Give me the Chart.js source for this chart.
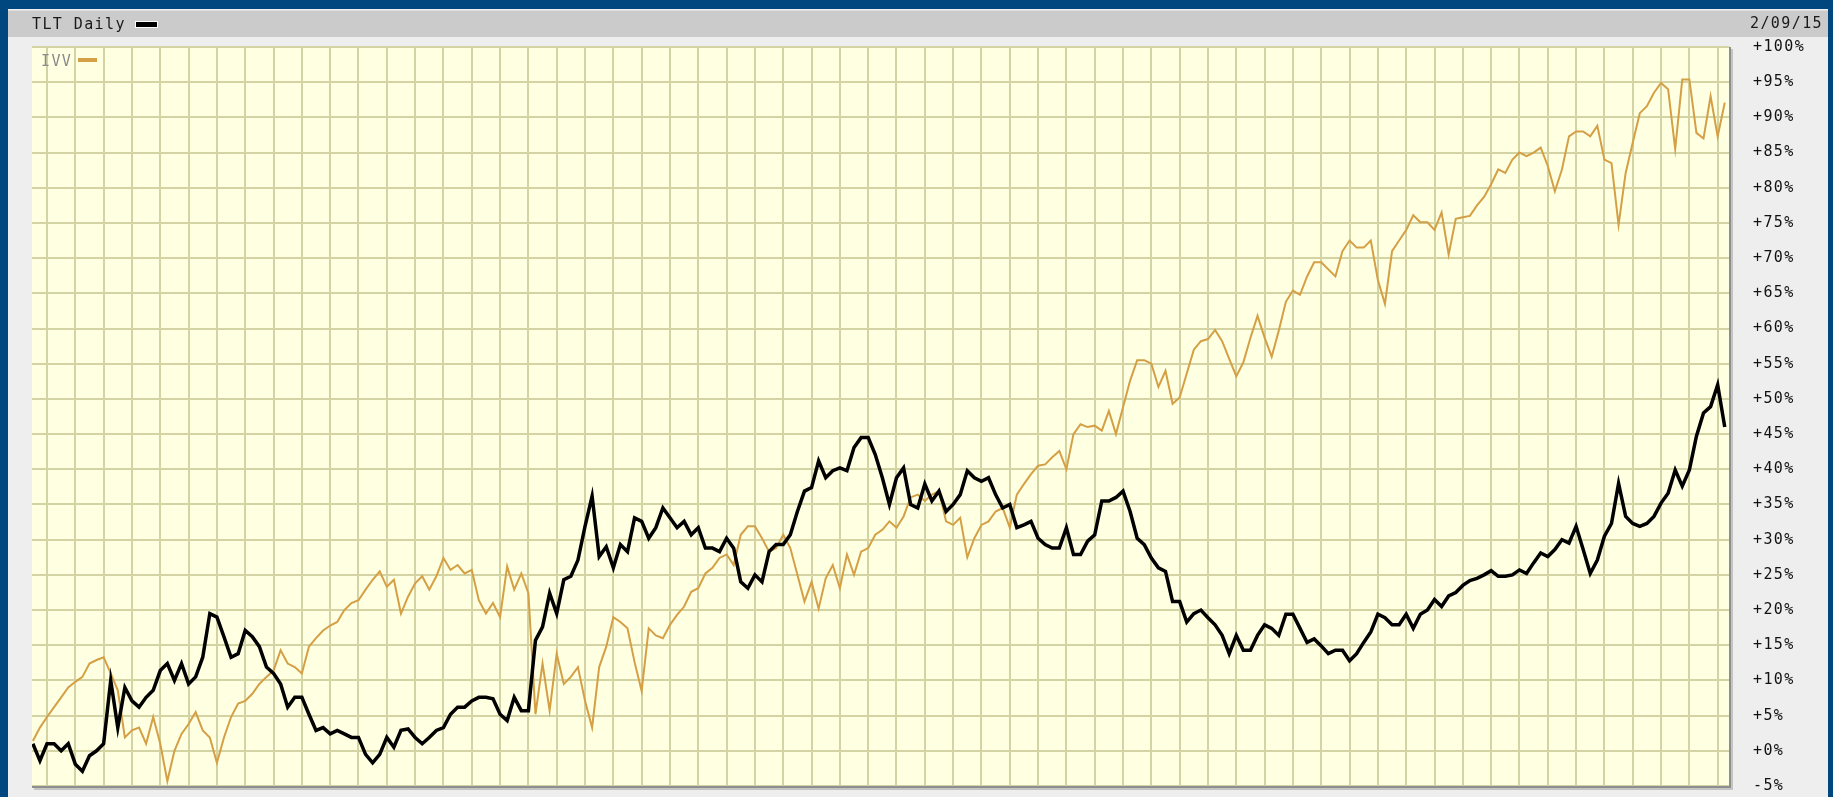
<!DOCTYPE html>
<html>
<head>
<meta charset="utf-8">
<title>TLT vs IVV</title>
<script src="https://cdn.jsdelivr.net/npm/chart.js@4.4.1/dist/chart.umd.min.js"></script>
<style>
html, body { margin: 0; padding: 0; width: 1833px; height: 797px; overflow: hidden; background: #00477f; }
#panel { position: absolute; left: 8px; top: 9px; width: 1820px; height: 788px; background: #eeeeee; }
#bar { position: absolute; left: 8px; top: 10px; width: 1820px; height: 26px; background: #cbcbcb; border-top: 1px solid #dedede; }
#chart { position: absolute; left: 0; top: 0; }
.txt { position: absolute; font-family: 'DejaVu Sans Mono', monospace; font-size: 15px; line-height: 15px; letter-spacing: 1.4px; color: #1a1a1a; white-space: nowrap; }
.swatch { position: absolute; }
</style>
</head>
<body>
<div id="panel"></div>
<div id="bar"></div>
<canvas id="chart" width="1833" height="797"></canvas>
<div class="txt" id="title" style="left:32px; top:17px;"></div>
<div class="swatch" style="left:135px; top:21px; width:21px; height:5px; background:#000; border:1px solid #fff;"></div>
<div class="txt" id="dateLbl" style="right:10px; top:16px;"></div>
<div class="txt" id="ivvLbl" style="left:41px; top:54px; color:#8a8a8a;"></div>
<div class="swatch" style="left:78px; top:58px; width:19px; height:4px; background:#d49f45;"></div>

<script>
// header texts
const titleText = 'TLT Daily';
const dateText = '2/09/15';
const compareText = 'IVV';

// weekly samples, first sample sits two weeks before the first month line
const firstWeek = -2;

// % change since start
const tltPct = [
    1, -1.4, 1, 1, 0, 1, -1.9, -2.9, -0.7, 0,
    1, 10, 3.3, 9, 7.1, 6.2, 7.6, 8.6, 11.4, 12.4,
    10, 12.4, 9.5, 10.5, 13.3, 19.5, 19, 16.2, 13.3, 13.8,
    17.1, 16.2, 14.8, 11.9, 11, 9.5, 6.2, 7.6, 7.6, 5.2,
    2.9, 3.3, 2.4, 2.9, 2.4, 1.9, 1.9, -0.5, -1.7, -0.5,
    1.9, 0.5, 2.9, 3.1, 1.9, 1, 1.9, 2.9, 3.3, 5.2,
    6.2, 6.2, 7.1, 7.6, 7.6, 7.4, 5.2, 4.3, 7.6, 5.7,
    5.7, 15.7, 17.6, 22.4, 19.5, 24.3, 24.8, 27.1, 31.9, 36.2,
    27.6, 29, 26, 29.3, 28.3, 33.1, 32.6, 30.2, 31.7, 34.5,
    33.1, 31.7, 32.6, 30.7, 31.7, 28.8, 28.8, 28.3, 30.2, 28.8,
    24, 23.1, 25, 24, 28.3, 29.3, 29.3, 30.7, 34, 36.9,
    37.4, 41.2, 38.8, 39.8, 40.2, 39.8, 43.1, 44.5, 44.5, 42.1,
    38.8, 35, 38.8, 40.2, 35, 34.5, 37.9, 35.5, 36.9, 34,
    35, 36.4, 39.8, 38.8, 38.3, 38.8, 36.4, 34.5, 35, 31.7,
    32.1, 32.6, 30.2, 29.3, 28.8, 28.8, 31.7, 27.9, 27.9, 29.8,
    30.7, 35.5, 35.5, 36, 36.9, 34, 30.2, 29.3, 27.4, 26,
    25.5, 21.2, 21.2, 18.3, 19.5, 20, 18.9, 17.9, 16.4, 13.8,
    16.4, 14.3, 14.3, 16.4, 17.9, 17.4, 16.4, 19.4, 19.4, 17.4,
    15.4, 15.9, 14.9, 13.8, 14.3, 14.3, 12.8, 13.8, 15.4, 16.9,
    19.4, 18.9, 17.9, 17.9, 19.4, 17.4, 19.4, 20, 21.5, 20.5,
    22, 22.5, 23.5, 24.2, 24.5, 25, 25.6, 24.8, 24.8, 25,
    25.7, 25.2, 26.7, 28.1, 27.6, 28.6, 30, 29.5, 31.9, 28.6,
    25.2, 27.1, 30.5, 32.3, 38, 33.3, 32.3, 31.9, 32.3, 33.3,
    35.2, 36.6, 39.9, 37.6, 39.9, 44.7, 48, 48.9, 52, 46
];

const ivvPct = [
    1.4, 3.3, 4.8, 6.2, 7.6, 9, 9.8, 10.5, 12.4, 12.9,
    13.3, 11, 8.6, 1.9, 2.9, 3.3, 1, 4.8, 1, -4.3,
    0, 2.4, 3.8, 5.5, 2.9, 1.9, -1.7, 1.9, 4.8, 6.7,
    7.1, 8.1, 9.5, 10.5, 11.4, 14.3, 12.4, 11.9, 11, 14.8,
    16, 17.1, 17.8, 18.3, 20, 21, 21.4, 22.9, 24.3, 25.5,
    23.3, 24.3, 19.5, 21.9, 23.8, 24.8, 22.9, 24.8, 27.4, 25.7,
    26.4, 25.2, 25.7, 21.4, 19.5, 21, 19, 26.2, 22.9, 25.2,
    22.4, 5.2, 12.4, 5.7, 13.8, 9.5, 10.5, 11.9, 7.1, 3.3,
    11.9, 14.8, 19, 18.3, 17.4, 12.6, 8.5, 17.4, 16.4, 16,
    17.9, 19.3, 20.5, 22.6, 23.1, 25.2, 26, 27.4, 27.9, 26.4,
    30.7, 31.9, 31.9, 30.2, 28.3, 28.8, 30.7, 28.8, 25, 21.2,
    24, 20.2, 24.5, 26.4, 23.1, 27.9, 25, 28.3, 28.8, 30.7,
    31.4, 32.6, 31.7, 33.3, 36, 36.4, 35.5, 36.4, 36.9, 32.6,
    32.1, 33.1, 27.5, 30.2, 32.1, 32.6, 34, 34.5, 31.7, 36.4,
    37.9, 39.3, 40.5, 40.7, 41.7, 42.6, 40, 45, 46.4, 46,
    46.2, 45.5, 48.3, 45, 48.8, 52.6, 55.5, 55.5, 55, 51.7,
    54, 49.3, 50.2, 53.6, 57, 58.2, 58.5, 59.8, 58.2, 55.7,
    53.2, 55.2, 58.7, 61.8, 58.7, 56, 59.7, 63.8, 65.4, 64.8,
    67.4, 69.4, 69.4, 68.4, 67.4, 71, 72.5, 71.5, 71.5, 72.5,
    66.9, 63.5, 71, 72.5, 74, 76.1, 75.1, 75.1, 74, 76.5,
    70.5, 75.6, 75.8, 76, 77.5, 78.7, 80.5, 82.6, 82.1, 84,
    85, 84.5, 85, 85.7, 83.1, 79.5, 82.6, 87.3, 88, 88,
    87.3, 88.8, 84, 83.5, 74.7, 82.1, 86.4, 90.6, 91.6, 93.5,
    94.9, 94, 85.5, 95.4, 95.4, 87.8, 87, 93, 87.3, 92.1
];

// axis ranges
const yMin = -5;
const yMax = 100;
const yStep = 5;
const weekMin = -2.12;
const weekMax = 237.6;
const weeksPerGrid = 4;

document.getElementById('title').textContent = titleText;
document.getElementById('dateLbl').textContent = dateText;
document.getElementById('ivvLbl').textContent = compareText;

function toPoints(values){
    return values.map((v, i) => ({ x: firstWeek + i, y: v }));
}

const plotFrame = {
    id: 'plotFrame',
    beforeDraw(chart){
        const { ctx, chartArea: a } = chart;
        ctx.save();
        ctx.fillStyle = '#ffffe2';
        ctx.fillRect(a.left, a.top, a.right - a.left, a.bottom - a.top);
        ctx.strokeStyle = '#ffffff';
        ctx.lineWidth = 1;
        ctx.beginPath();
        ctx.moveTo(a.left, a.top - 0.5);
        ctx.lineTo(a.right, a.top - 0.5);
        ctx.stroke();
        ctx.restore();
        ctx.letterSpacing = '1.4px';
    },
    afterDraw(chart){
        const { ctx, chartArea: a } = chart;
        ctx.save();
        ctx.strokeStyle = '#8e8e8e';
        ctx.lineWidth = 2;
        ctx.beginPath();
        ctx.moveTo(a.right + 1, a.top);
        ctx.lineTo(a.right + 1, a.bottom + 1);
        ctx.lineTo(a.left, a.bottom + 1);
        ctx.stroke();
        ctx.strokeStyle = '#c4c4c4';
        ctx.beginPath();
        ctx.moveTo(a.right + 3, a.top + 2);
        ctx.lineTo(a.right + 3, a.bottom + 3);
        ctx.lineTo(a.left + 2, a.bottom + 3);
        ctx.stroke();
        ctx.restore();
    }
};

var ctx = document.getElementById('chart').getContext('2d');
var myChart = new Chart(ctx, {
    type: 'line',
    data: {
        datasets: [{
            label: 'TLT',
            data: toPoints(tltPct),
            borderColor: '#000000',
            borderWidth: 3.5,
            pointRadius: 0,
            tension: 0
        }, {
            label: 'IVV',
            data: toPoints(ivvPct),
            borderColor: '#d49f45',
            borderWidth: 2,
            pointRadius: 0,
            tension: 0
        }]
    },
    options: {
        responsive: false,
        animation: false,
        devicePixelRatio: 1,
        layout: { padding: { left: 32, top: 47, right: 0, bottom: 11 } },
        plugins: { legend: { display: false }, tooltip: { enabled: false } },
        scales: {
            x: {
                type: 'linear',
                min: weekMin,
                max: weekMax,
                afterBuildTicks: scale => {
                    var ticks = [];
                    for (var w = 0; w <= weekMax; w += weeksPerGrid) ticks.push({ value: w });
                    scale.ticks = ticks;
                },
                afterFit: scale => {
                    scale.height = 0;
                    scale.paddingLeft = 0;
                    scale.paddingRight = 0;
                },
                ticks: { display: false },
                grid: { color: '#d3d3a3', lineWidth: 2, drawTicks: false },
                border: { display: false }
            },
            y: {
                position: 'right',
                min: yMin,
                max: yMax,
                afterFit: scale => {
                    scale.width = 104;
                    scale.paddingTop = 0;
                    scale.paddingBottom = 0;
                },
                ticks: {
                    stepSize: yStep,
                    padding: 24,
                    color: '#111111',
                    font: { family: 'DejaVu Sans Mono', size: 15 },
                    callback: v => (v >= 0 ? '+' : '') + v + '%'
                },
                grid: { color: '#d3d3a3', lineWidth: 2, drawTicks: false },
                border: { display: false }
            }
        }
    },
    plugins: [plotFrame]
});
</script>
</body>
</html>
